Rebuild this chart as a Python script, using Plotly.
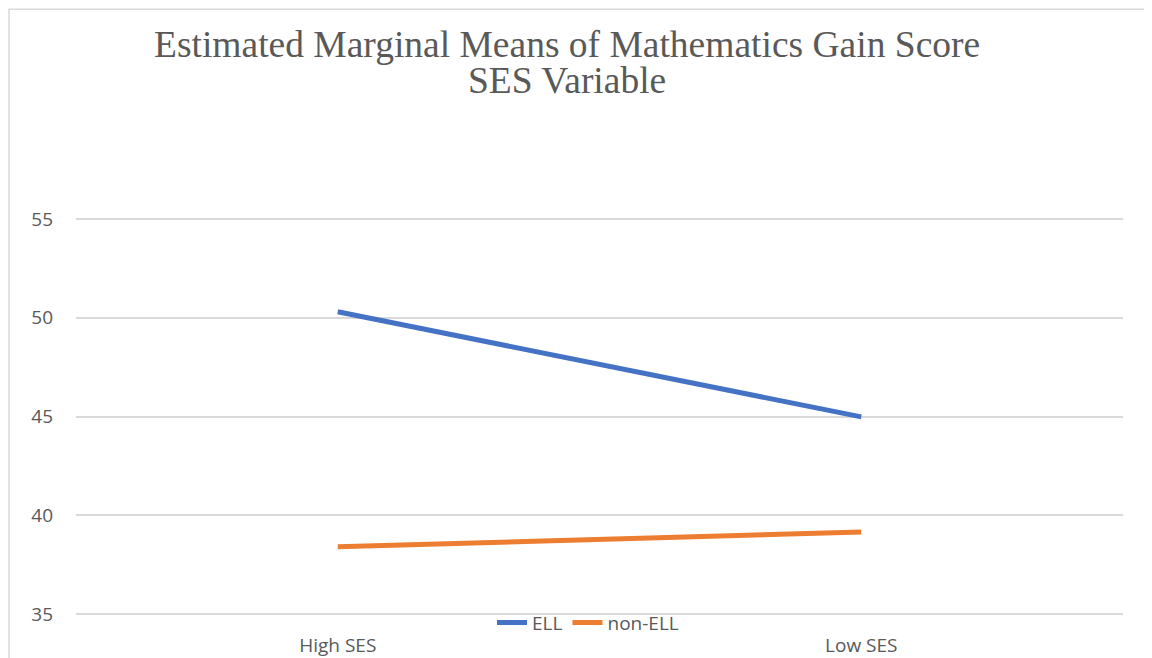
import plotly.graph_objects as go

categories = ["High SES", "Low SES"]
ell_values = [50.3, 44.98]
non_ell_values = [38.4, 39.15]
y_ticks = [35, 40, 45, 50, 55]
title_line1 = "Estimated Marginal Means of Mathematics Gain Score"
title_line2 = "SES Variable"

# page body has an 8px margin; work in page pixels, convert to figure pixels
OFF = 8
W, H = 1152 - OFF, 658 - OFF
PLOT_L, PLOT_R, PLOT_T, PLOT_B = 76, 1123, 217.0, 616.3  # page pixels
ML = PLOT_L - OFF
MR = 1152 - PLOT_R
MT = PLOT_T - OFF
MB = H - (PLOT_B - OFF)
PW = W - ML - MR
PH = H - MT - MB


def px_x(px):
    return (px - PLOT_L) / PW


def px_y(py):
    return (PLOT_B - py) / PH


fig = go.Figure()
fig.add_trace(go.Scatter(x=categories, y=ell_values, mode="lines", name="ELL",
                         line=dict(color="#4472C4", width=5)))
fig.add_trace(go.Scatter(x=categories, y=non_ell_values, mode="lines", name="non-ELL",
                         line=dict(color="#ED7D31", width=5)))

tick_font = dict(family="Open Sans", size=19, color="#595959")
title_font = dict(family="Liberation Serif", size=37.5, color="#595959")

fig.update_layout(
    width=W, height=H,
    margin=dict(l=ML, r=MR, t=MT, b=MB, pad=0, autoexpand=False),
    paper_bgcolor="white", plot_bgcolor="white",
    showlegend=True,
    legend=dict(orientation="h", x=px_x(588), xanchor="center",
                y=px_y(623), yanchor="middle", font=tick_font,
                bgcolor="rgba(0,0,0,0)", tracegroupgap=0),
    xaxis=dict(type="category", range=[-0.5, 1.5], showgrid=False,
               showline=False, ticks="", tickfont=tick_font,
               ticklabelstandoff=16, fixedrange=True),
    yaxis=dict(range=[34.9, 55.1], tickvals=y_ticks, showgrid=True,
               gridcolor="#D9D9D9", gridwidth=1.5, zeroline=False,
               showline=False, ticks="", ticklabelstandoff=22,
               tickfont=tick_font, fixedrange=True),
    annotations=[
        dict(text=title_line1, xref="paper", yref="paper", x=px_x(567), y=px_y(67),
             xanchor="center", yanchor="bottom", showarrow=False, font=title_font),
        dict(text=title_line2, xref="paper", yref="paper", x=px_x(567), y=px_y(103),
             xanchor="center", yanchor="bottom", showarrow=False, font=title_font),
    ],
    shapes=[
        dict(type="rect", xref="paper", yref="paper",
             x0=px_x(9), y0=px_y(700), x1=px_x(1200), y1=px_y(9),
             line=dict(color="#D9D9D9", width=1.5), layer="below"),
    ],
)

fig.write_html("out.html")
